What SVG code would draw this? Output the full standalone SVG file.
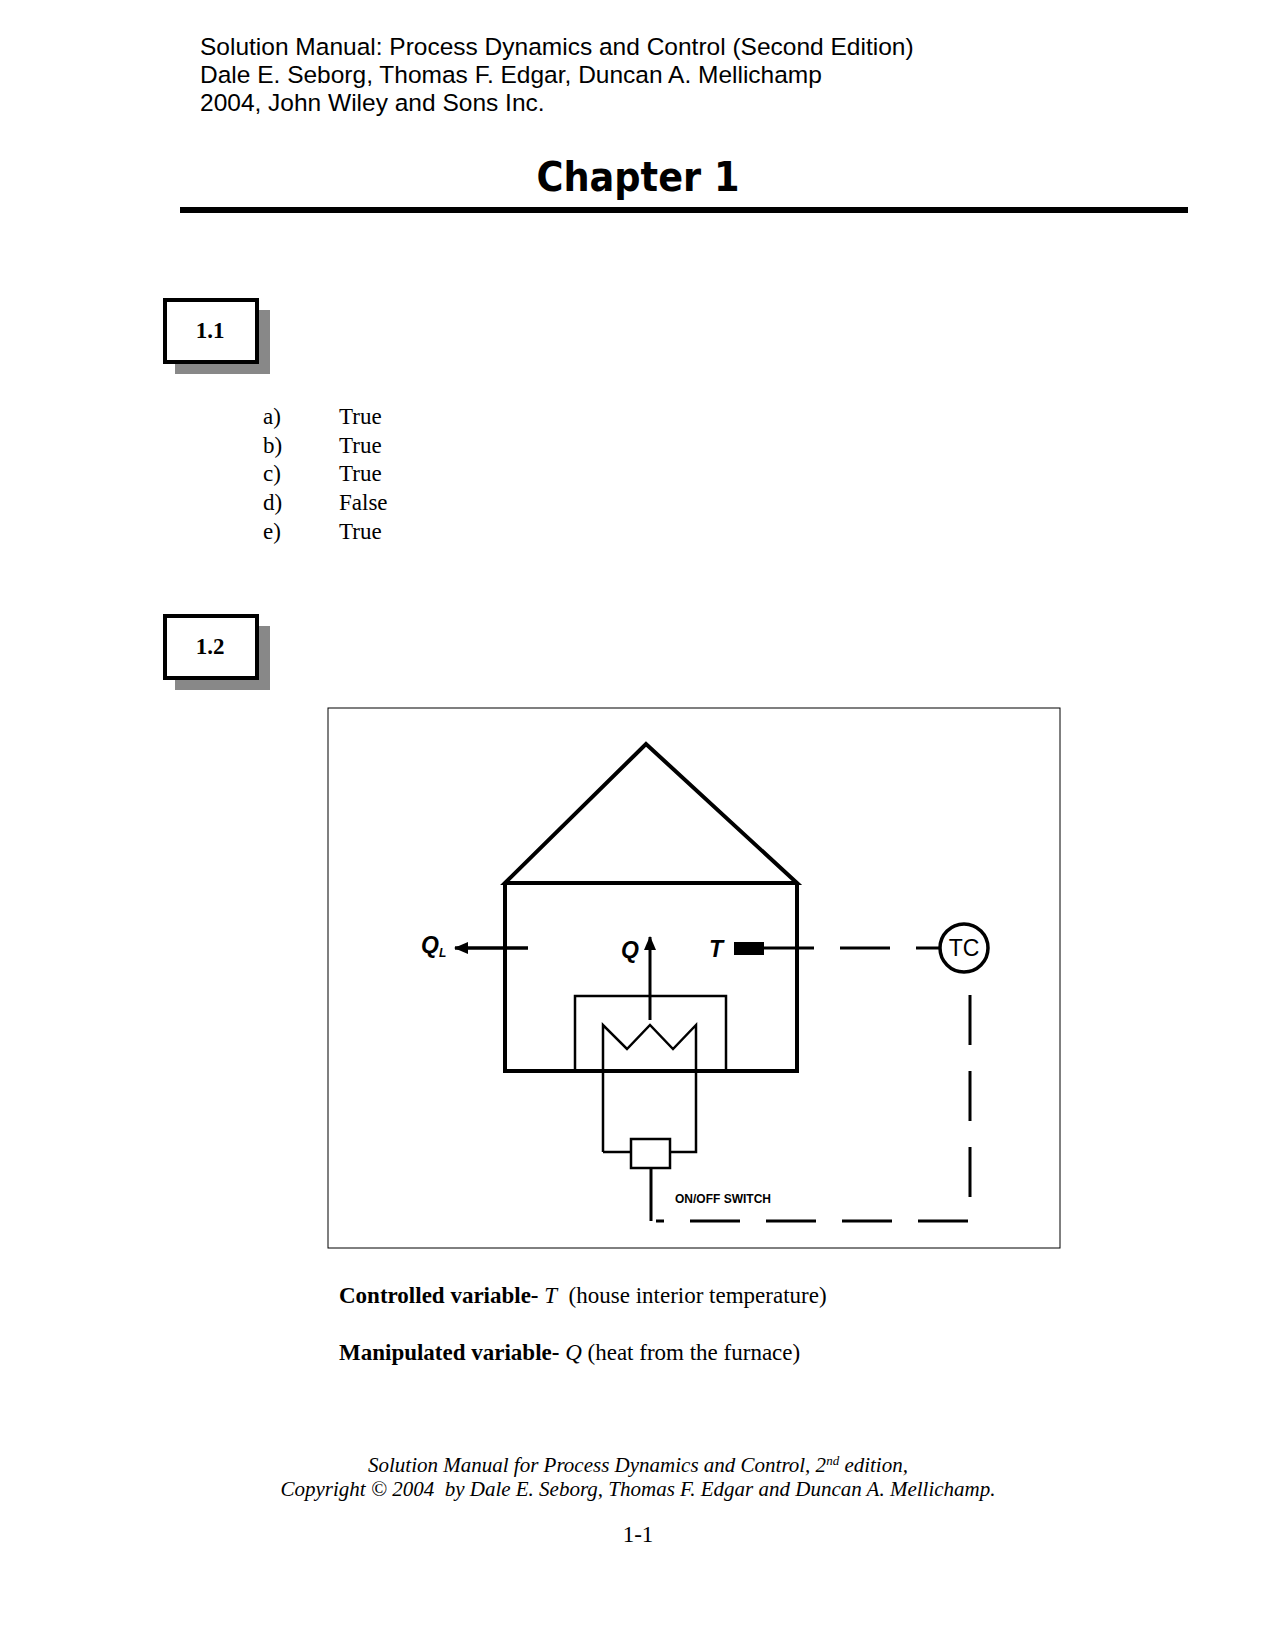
<svg xmlns="http://www.w3.org/2000/svg" width="1275" height="1651" viewBox="0 0 1275 1651">
<style>
.hd{font-family:"Liberation Sans",Arial,sans-serif;font-size:24.5px}
.sr{font-family:"Liberation Serif","Times New Roman",serif;font-size:23px}
.ln{fill:none;stroke:#000;stroke-width:4}
.th{fill:none;stroke:#000;stroke-width:2.5}
.ds{fill:none;stroke:#000;stroke-width:3;stroke-dasharray:50 26}
.lb{font-family:"Liberation Sans",Arial,sans-serif;font-weight:bold;font-style:italic;font-size:23px}
.ft{font-family:"Liberation Serif","Times New Roman",serif;font-style:italic;font-size:21px}
</style>
<defs><marker id="ah" markerWidth="14" markerHeight="14" refX="13" refY="6" orient="auto" markerUnits="userSpaceOnUse"><path d="M0,0 L14,6 L0,12 z"/></marker></defs>
<rect width="1275" height="1651" fill="#fff"/>
<text class="hd" x="200" y="55">Solution Manual: Process Dynamics and Control (Second Edition)</text>
<text class="hd" x="200" y="83">Dale E. Seborg, Thomas F. Edgar, Duncan A. Mellichamp</text>
<text class="hd" x="200" y="111">2004, John Wiley and Sons Inc.</text>
<text x="638" y="191" text-anchor="middle" font-family="DejaVu Sans,sans-serif" font-weight="bold" font-size="40" textLength="203" lengthAdjust="spacingAndGlyphs">Chapter 1</text>
<rect x="180" y="207" width="1008" height="6"/>
<g id="box11"><rect x="175" y="310" width="95" height="64" fill="#888"/><rect x="165" y="300" width="92" height="62" fill="#fff" stroke="#000" stroke-width="4"/><text x="210" y="338" text-anchor="middle" class="sr" font-weight="bold" font-size="21">1.1</text></g>
<g class="sr">
<text x="263" y="424">a)</text><text x="339" y="424">True</text>
<text x="263" y="453">b)</text><text x="339" y="453">True</text>
<text x="263" y="481">c)</text><text x="339" y="481">True</text>
<text x="263" y="510">d)</text><text x="339" y="510">False</text>
<text x="263" y="539">e)</text><text x="339" y="539">True</text>
</g>
<g id="box12"><rect x="175" y="626" width="95" height="64" fill="#888"/><rect x="165" y="616" width="92" height="62" fill="#fff" stroke="#000" stroke-width="4"/><text x="210" y="654" text-anchor="middle" class="sr" font-weight="bold" font-size="21">1.2</text></g>
<rect x="328" y="708" width="732" height="540" fill="none" stroke="#000" stroke-width="1"/>
<g id="house"><path class="ln" d="M505,883 L646,744 L797,883 Z M505,883 V1071 H797 V883"/></g>
<g id="furnace"><rect class="th" x="575" y="996" width="151" height="75"/>
<path class="th" d="M603,1152 V1025 L627,1049 L650,1025 L673,1049 L696,1025 V1152 H670 M631,1152 H603"/>
<rect class="th" x="631" y="1139" width="39" height="29" fill="#fff"/>
<text x="675" y="1203" font-family="Liberation Sans,Arial,sans-serif" font-weight="bold" font-size="12">ON/OFF SWITCH</text></g>
<g id="sensor"><rect x="734" y="942" width="30" height="13"/><text class="lb" x="716" y="957" text-anchor="middle">T</text></g>
<g id="TC"><circle cx="964" cy="948" r="24" fill="#fff" stroke="#000" stroke-width="3.5"/><text x="964" y="956" text-anchor="middle" font-family="Liberation Sans,Arial,sans-serif" font-size="23">TC</text></g>
<g id="connectors">
<line x1="528" y1="948" x2="455" y2="948" stroke="#000" stroke-width="3.5" marker-end="url(#ah)"/>
<line x1="650" y1="1020" x2="650" y2="937" stroke="#000" stroke-width="3" marker-end="url(#ah)"/>
<line x1="651" y1="1168" x2="651" y2="1221" stroke="#000" stroke-width="3"/>
<path class="ds" d="M764,948 H940"/>
<path class="ds" d="M970,975 V1221 H656" stroke-dashoffset="-20"/>
</g>
<text class="lb" x="421" y="953">Q<tspan font-size="12" dy="4">L</tspan></text>
<text class="lb" x="630" y="958" text-anchor="middle">Q</text>
<text class="sr" x="339" y="1303" font-size="24.5" xml:space="preserve"><tspan font-weight="bold">Controlled variable-</tspan> <tspan font-style="italic">T</tspan>  (house interior temperature)</text>
<text class="sr" x="339" y="1360" font-size="24.5"><tspan font-weight="bold">Manipulated variable-</tspan> <tspan font-style="italic">Q</tspan> (heat from the furnace)</text>
<text class="ft" x="638" y="1472" text-anchor="middle">Solution Manual for Process Dynamics and Control, 2<tspan font-size="13" dy="-7">nd</tspan><tspan dy="7"> edition,</tspan></text>
<text class="ft" x="638" y="1496" text-anchor="middle" xml:space="preserve">Copyright © 2004  by Dale E. Seborg, Thomas F. Edgar and Duncan A. Mellichamp.</text>
<text class="sr" x="638" y="1542" text-anchor="middle" font-size="22">1-1</text>
</svg>
